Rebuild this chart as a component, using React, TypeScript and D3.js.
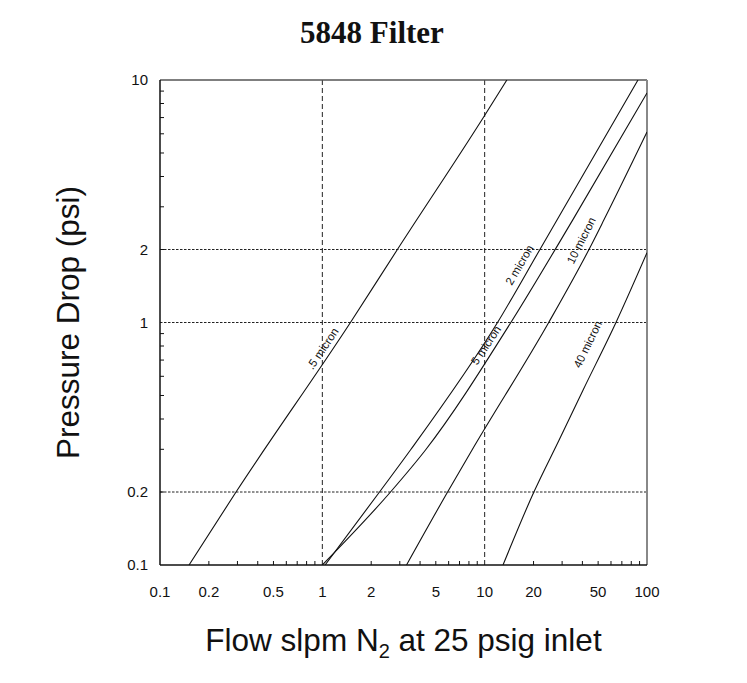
import * as d3 from "d3";

// flow (slpm N2) and pressure drop (psi), one pair of arrays per element
const flow05 = [0.151, 0.294, 1.49, 2.9, 9.86, 13.7];
const drop05 = [0.1, 0.2, 1, 2, 7.04, 10];

const flow2 = [1.04, 2.25, 3.49, 12.0, 21.9, 88];
const drop2 = [0.1, 0.2, 0.298, 1, 2, 10];

const flow5 = [1.0, 2.63, 4.32, 14.5, 34.9, 100];
const drop5 = [0.1, 0.2, 0.298, 1, 2.65, 8.84];

const flow10 = [3.3, 5.91, 8.36, 24.8, 43.9, 54.3, 100];
const drop10 = [0.1, 0.2, 0.298, 1, 2, 2.65, 6.1];

const flow40 = [12.97, 20.1, 28.7, 40.4, 64.4, 100];
const drop40 = [0.1, 0.2, 0.327, 0.527, 1, 1.94];

const seriesNames = [".5 micron", "2 micron", "5 micron", "10 micron", "40 micron"];
const seriesFlows = [flow05, flow2, flow5, flow10, flow40];
const seriesDrops = [drop05, drop2, drop5, drop10, drop40];

// flow at which each curve carries its label
const labelFlow = [1.11, 18.5, 11.2, 45.2, 52.8];
// distance of the label baseline from its curve (px)
const labelGap = [4.5, 6, 4, 7, 12];

const xTickLabels = [0.1, 0.2, 0.5, 1, 2, 5, 10, 20, 50, 100];
const yTickLabels = [0.1, 0.2, 1, 2, 10];
const xGrid = [1, 10];
const yGrid = [0.2, 1, 2];

const width = 747;
const height = 683;
const left = 160;
const right = 647;
const top = 80;
const bottom = 565;

const sans = "'Liberation Sans', Arial, Helvetica, sans-serif";

export default function App() {
  const x = d3.scaleLog().domain([0.1, 100]).range([left, right]);
  const y = d3.scaleLog().domain([0.1, 10]).range([bottom, top]);

  const line = d3
    .line<[number, number]>()
    .x((d) => x(d[0]))
    .y((d) => y(d[1]))
    .curve(d3.curveMonotoneX);

  // minor ticks for every decade
  const xMinor: number[] = [];
  [0.1, 1, 10].forEach((dec) => {
    for (let i = 2; i <= 9; i++) xMinor.push(dec * i);
  });
  const yMinor: number[] = [];
  [0.1, 1].forEach((dec) => {
    for (let i = 2; i <= 9; i++) yMinor.push(dec * i);
  });

  const fmt = (v: number) => (v < 1 ? String(v) : d3.format("d")(v));

  // label sits on its curve (log-log interpolation), rotated with the local slope
  const labelPlace = (k: number) => {
    const fx = seriesFlows[k];
    const fy = seriesDrops[k];
    const f = labelFlow[k];
    let j = fx.findIndex((v) => v > f);
    if (j < 1) j = fx.length - 1;
    const t = (Math.log(f) - Math.log(fx[j - 1])) / (Math.log(fx[j]) - Math.log(fx[j - 1]));
    const d = Math.exp(Math.log(fy[j - 1]) + t * (Math.log(fy[j]) - Math.log(fy[j - 1])));
    const dx = x(fx[j]) - x(fx[j - 1]);
    const dy = y(fy[j]) - y(fy[j - 1]);
    return { px: x(f), py: y(d), angle: (Math.atan2(dy, dx) * 180) / Math.PI };
  };

  return (
    <svg
      width={width}
      height={height}
      style={{ position: "absolute", left: 0, top: 0, background: "#fff" }}
    >
      <defs>
        <clipPath id="plotArea">
          <rect x={left} y={top} width={right - left} height={bottom - top} />
        </clipPath>
      </defs>

      <text
        x={372}
        y={43}
        textAnchor="middle"
        fontFamily="'Liberation Serif', 'Times New Roman', serif"
        fontWeight="bold"
        fontSize={31}
        fill="#111"
      >
        5848 Filter
      </text>

      {/* grid */}
      {xGrid.map((v) => (
        <line
          key={"gx" + v}
          x1={x(v)}
          x2={x(v)}
          y1={top}
          y2={bottom}
          stroke="#222"
          strokeWidth={1}
          strokeDasharray="5,3"
        />
      ))}
      {yGrid.map((v) => (
        <line
          key={"gy" + v}
          x1={left}
          x2={right}
          y1={y(v)}
          y2={y(v)}
          stroke="#222"
          strokeWidth={1}
          strokeDasharray="2.5,1.5"
        />
      ))}

      {/* minor ticks, pointing inwards */}
      {xMinor.map((v) => (
        <line key={"tx" + v} x1={x(v)} x2={x(v)} y1={bottom} y2={bottom - 4} stroke="#111" />
      ))}
      {yMinor.map((v) => (
        <line key={"ty" + v} x1={left} x2={left + 4} y1={y(v)} y2={y(v)} stroke="#111" />
      ))}

      {/* frame */}
      <line x1={left} x2={right} y1={top} y2={top} stroke="#555" strokeWidth={1.5} />
      <line x1={right} x2={right} y1={top} y2={bottom} stroke="#888" strokeWidth={2} />
      <line x1={left} x2={left} y1={top} y2={bottom} stroke="#111" strokeWidth={1.5} />
      <line x1={left} x2={right} y1={bottom} y2={bottom} stroke="#111" strokeWidth={1.5} />

      {/* curves */}
      <g clipPath="url(#plotArea)">
        {seriesNames.map((name, k) => (
          <path
            key={name}
            d={line(seriesFlows[k].map((f, i) => [f, seriesDrops[k][i]] as [number, number])) || ""}
            fill="none"
            stroke="#111"
            strokeWidth={1.1}
          />
        ))}
      </g>

      {seriesNames.map((name, k) => {
        const p = labelPlace(k);
        return (
          <text
            key={"lab" + name}
            transform={`translate(${p.px},${p.py}) rotate(${p.angle})`}
            textAnchor="middle"
            dy={-labelGap[k]}
            fontFamily={sans}
            fontSize={11.5}
            fill="#111"
          >
            {name}
          </text>
        );
      })}

      {/* tick labels */}
      {xTickLabels.map((v) => (
        <text
          key={"xl" + v}
          x={x(v)}
          y={597}
          textAnchor="middle"
          fontFamily={sans}
          fontSize={15}
          fill="#111"
        >
          {fmt(v)}
        </text>
      ))}
      {yTickLabels.map((v) => (
        <text
          key={"yl" + v}
          x={148}
          y={y(v)}
          dy="0.35em"
          textAnchor="end"
          fontFamily={sans}
          fontSize={15}
          fill="#111"
        >
          {fmt(v)}
        </text>
      ))}

      {/* axis titles */}
      <text
        x={(left + right) / 2}
        y={651}
        textAnchor="middle"
        fontFamily={sans}
        fontSize={31.5}
        fill="#111"
      >
        Flow slpm N
        <tspan fontSize={20} dy={7}>
          2
        </tspan>
        <tspan dy={-7}> at 25 psig inlet</tspan>
      </text>
      <text
        transform={`translate(79,${(top + bottom) / 2}) rotate(-90)`}
        textAnchor="middle"
        fontFamily={sans}
        fontSize={31.5}
        fill="#111"
      >
        Pressure Drop (psi)
      </text>
    </svg>
  );
}
